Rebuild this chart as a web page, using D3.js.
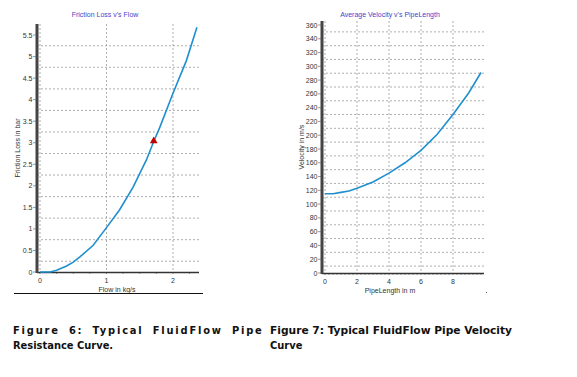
<!DOCTYPE html>
<html>
<head>
<meta charset="utf-8">
<script src="https://cdn.jsdelivr.net/npm/d3@7"></script>
<style>
  body { margin: 0; background: #fff; }
  svg { display: block; }
  .tick-label { font-family: "Liberation Sans", Arial, sans-serif; font-size: 7px; fill: #333; }
  .axis-title { font-family: "Liberation Sans", Arial, sans-serif; font-size: 7px; fill: #333; }
  .chart-title { font-family: "Liberation Sans", Arial, sans-serif; font-size: 7px; fill: #4a3fc8; }
  .caption { font-family: "DejaVu Sans Condensed", "DejaVu Sans", sans-serif; font-size: 11px; font-weight: bold; fill: #111; }
</style>
</head>
<body>
<svg id="page" width="577" height="377"></svg>
<script>
// Figure 6: friction loss (bar) against flow (kg/s)
const flowValues = [0, 0.15, 0.25, 0.4, 0.5, 0.6, 0.8, 1.0, 1.2, 1.4, 1.6, 1.71, 1.8, 2.0, 2.2, 2.36];
const frictionLoss = [0, 0, 0.04, 0.14, 0.23, 0.35, 0.62, 1.03, 1.45, 1.97, 2.6, 3.03, 3.35, 4.15, 4.9, 5.68];
const operatingPoint = { flow: 1.71, loss: 3.03 };
const flowTicks = [0, 1, 2];
const lossTicks = [0, 0.5, 1, 1.5, 2, 2.5, 3, 3.5, 4, 4.5, 5, 5.5];

// Figure 7: average velocity (m/s) against pipe length (m)
const pipeLength = [0, 0.5, 1, 1.5, 2, 3, 4, 5, 6, 7, 8, 9, 9.75];
const avgVelocity = [115, 115, 117, 119, 123, 132, 145, 160, 178, 201, 230, 262, 291];
const lengthTicks = [0, 2, 4, 6, 8];
const velocityTicks = d3.range(0, 361, 20);

const svg = d3.select('#page');

function drawChart(cfg) {
    const g = svg.append('g');
    const x = d3.scaleLinear().domain(cfg.xDomain).range(cfg.xRange);
    const y = d3.scaleLinear().domain(cfg.yDomain).range(cfg.yRange);
    const left = cfg.axisX, right = cfg.plotRight, top = cfg.plotTop, bottom = y(0);

    // dotted grid, horizontal lines sit half a step between labels
    g.selectAll('.hgrid').data(cfg.hGrid).join('line')
        .attr('x1', left).attr('x2', right)
        .attr('y1', (d) => y(d)).attr('y2', (d) => y(d))
        .attr('stroke', '#9a9a9a').attr('stroke-width', 0.8).attr('stroke-dasharray', '2,2');
    g.selectAll('.vgrid').data(cfg.xTicks).join('line')
        .attr('x1', (d) => x(d)).attr('x2', (d) => x(d))
        .attr('y1', top).attr('y2', bottom)
        .attr('stroke', '#9a9a9a').attr('stroke-width', 0.8).attr('stroke-dasharray', '2,2');

    // minor ticks under x axis
    g.selectAll('.xminor').data(cfg.xMinor).join('line')
        .attr('x1', (d) => x(d)).attr('x2', (d) => x(d))
        .attr('y1', bottom).attr('y2', bottom + 2)
        .attr('stroke', '#555').attr('stroke-width', 0.6);

    // axes lines
    g.append('line').attr('x1', left).attr('x2', right).attr('y1', bottom + 0.5).attr('y2', bottom + 0.5)
        .attr('stroke', '#333').attr('stroke-width', 1.5);
    g.append('line').attr('x1', left).attr('x2', left).attr('y1', top).attr('y2', bottom + 1)
        .attr('stroke', '#444').attr('stroke-width', 3);

    // y ticks + labels
    g.selectAll('.ytick').data(cfg.yTicks).join('line')
        .attr('x1', left - 4).attr('x2', left)
        .attr('y1', (d) => y(d)).attr('y2', (d) => y(d))
        .attr('stroke', '#555').attr('stroke-width', 0.6);
    g.selectAll('.ylab').data(cfg.yTicks).join('text')
        .attr('class', 'tick-label')
        .attr('x', left - 4.5).attr('y', (d) => y(d) + 2.5)
        .attr('text-anchor', 'end')
        .text((d) => d);

    // x labels
    g.selectAll('.xlab').data(cfg.xTicks).join('text')
        .attr('class', 'tick-label')
        .attr('x', (d) => x(d)).attr('y', bottom + 10.5)
        .attr('text-anchor', 'middle')
        .text((d) => d);

    g.append('text').attr('class', 'axis-title')
        .attr('x', cfg.xTitleX).attr('y', bottom + 19.5)
        .attr('text-anchor', 'middle').text(cfg.xTitle);
    g.append('text').attr('class', 'axis-title')
        .attr('transform', `translate(${cfg.yTitleX},${cfg.yTitleY}) rotate(-90)`)
        .attr('text-anchor', 'middle').text(cfg.yTitle);
    g.append('text').attr('class', 'chart-title')
        .attr('x', cfg.titleX).attr('y', 17)
        .attr('text-anchor', 'middle').text(cfg.title);

    const line = d3.line().x((d) => x(d[0])).y((d) => y(d[1]));
    g.append('path')
        .datum(d3.zip(cfg.xs, cfg.ys))
        .attr('d', line)
        .attr('fill', 'none')
        .attr('stroke', '#1f8fd0')
        .attr('stroke-width', 1.6);

    return { x, y, g };
}

const fig6 = drawChart({
    xDomain: [0, 2], xRange: [40, 173],
    yDomain: [0, 5.5], yRange: [272, 35],
    axisX: 37, plotRight: 199, plotTop: 24,
    hGrid: d3.range(0.25, 5.5, 0.5),
    xTicks: flowTicks, yTicks: lossTicks,
    xMinor: d3.range(0, 2.4, 0.25),
    xs: flowValues, ys: frictionLoss,
    title: "Friction Loss v's Flow", titleX: 105,
    xTitle: 'Flow in kg/s', xTitleX: 117,
    yTitle: 'Friction Loss in bar', yTitleX: 20, yTitleY: 148,
});

fig6.g.append('path')
    .attr('d', d3.symbol(d3.symbolTriangle, 26)())
    .attr('transform', `translate(${fig6.x(operatingPoint.flow)},${fig6.y(operatingPoint.loss) - 0.5})`)
    .attr('fill', '#c00000');

drawChart({
    xDomain: [0, 8], xRange: [325, 453],
    yDomain: [0, 360], yRange: [273, 25],
    axisX: 322, plotRight: 484, plotTop: 21,
    hGrid: d3.range(10, 360, 20),
    xTicks: lengthTicks, yTicks: velocityTicks,
    xMinor: d3.range(0, 10, 0.25),
    xs: pipeLength, ys: avgVelocity,
    title: "Average Velocity v's PipeLength", titleX: 390,
    xTitle: 'PipeLength in m', xTitleX: 390,
    yTitle: 'Velocity in m/s', yTitleX: 304, yTitleY: 147,
});

// image frame remnants
svg.append('line').attr('x1', 14).attr('x2', 203).attr('y1', 293.5).attr('y2', 293.5)
    .attr('stroke', '#111').attr('stroke-width', 1);
svg.append('rect').attr('x', 486).attr('y', 292).attr('width', 1).attr('height', 1).attr('fill', '#666');

// captions
svg.append('text').attr('class', 'caption').attr('x', 13).attr('y', 334)
    .style('letter-spacing', '1.8px').style('word-spacing', '4px')
    .text('Figure 6: Typical FluidFlow Pipe');
svg.append('text').attr('class', 'caption').attr('x', 13).attr('y', 349)
    .text('Resistance Curve.');
svg.append('text').attr('class', 'caption').attr('x', 270).attr('y', 334)
    .attr('textLength', 242).attr('lengthAdjust', 'spacingAndGlyphs')
    .text('Figure 7: Typical FluidFlow Pipe Velocity');
svg.append('text').attr('class', 'caption').attr('x', 270).attr('y', 349)
    .text('Curve');
</script>
</body>
</html>
